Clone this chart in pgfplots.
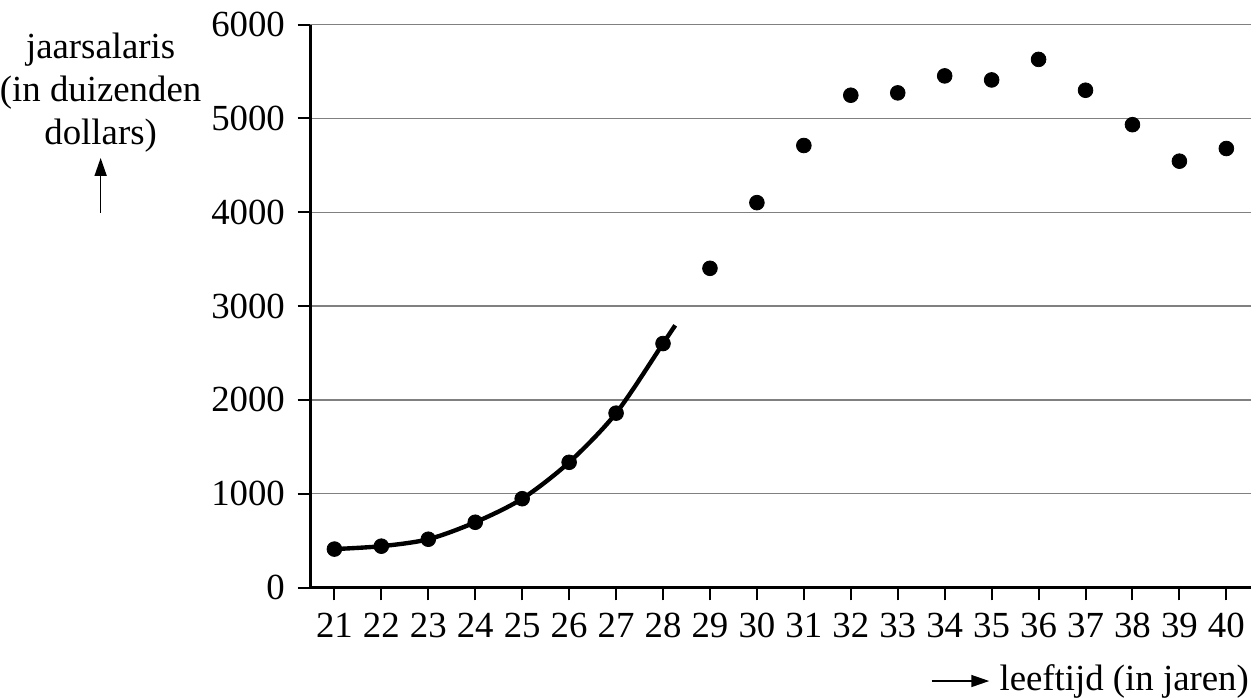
\documentclass[border=0pt]{standalone}
\usepackage{fontspec}
\setmainfont{Liberation Serif}
\usepackage{pgfplots}
\pgfplotsset{compat=1.18}
\usetikzlibrary{arrows.meta}

\begin{document}
\fontsize{18.5}{21.5}\selectfont
\begin{tikzpicture}
\begin{axis}[
    scale only axis,
    width=473pt, height=283pt,
    xmin=20.49, xmax=40.53,
    ymin=0, ymax=6000,
    axis x line=bottom, axis y line=left,
    axis line style={-, line width=1.5pt},
    tick align=outside,
    major tick length=6.5pt,
    tick style={line width=1pt, black},
    xtick={21,...,40},
    ytick={0,1000,...,6000},
    ymajorgrids,
    grid style={gray, line width=0.7pt},
    /pgf/number format/assume math mode=true,
    scaled y ticks=false,
    yticklabel style={/pgf/number format/set thousands separator={}},
    clip=false,
]
\addplot[black, line width=2.2pt, smooth, tension=0.5] coordinates {
    (21,410) (22,441) (23,515) (24,696) (25,947) (26,1335) (27,1859) (28,2601) (28.26,2795)};
\addplot[only marks, mark=*, mark size=3.7pt, black] coordinates {
    (21,410) (22,441) (23,515) (24,696) (25,947) (26,1335) (27,1859) (28,2601)
    (29,3403) (30,4103) (31,4712) (32,5248) (33,5273) (34,5454) (35,5411)
    (36,5630) (37,5301) (38,4934) (39,4545) (40,4680)};
\node[anchor=north, align=center, inner sep=0pt] at ([xshift=-105.5pt, yshift=-4pt]rel axis cs:0,1)
    {jaarsalaris\\(in duizenden\\dollars)};
\draw[-{Triangle[length=9pt, width=6pt]}, line width=0.8pt]
    ([xshift=-105.5pt, yshift=-94.5pt]rel axis cs:0,1) -- ([xshift=-105.5pt, yshift=-67pt]rel axis cs:0,1);
\node[anchor=east, inner sep=0pt] (xl) at ([xshift=-1pt, yshift=-47pt]rel axis cs:1,0) {leeftijd (in jaren)};
\draw[-{Triangle[length=9pt, width=6pt]}, line width=0.8pt]
    ([xshift=-34pt]xl.west) -- ([xshift=-5pt]xl.west);
\end{axis}
\end{tikzpicture}
\end{document}
